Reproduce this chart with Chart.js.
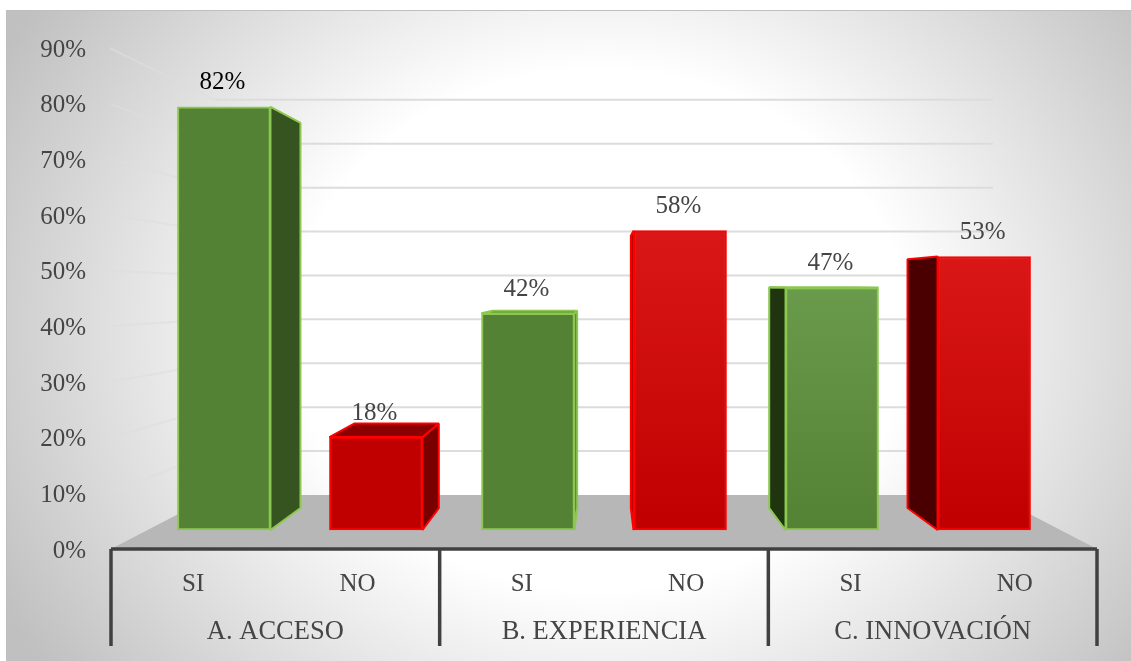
<!DOCTYPE html>
<html>
<head>
<meta charset="utf-8">
<title>Acceso, experiencia e innovación</title>
<script src="https://cdn.jsdelivr.net/npm/chart.js@4/dist/chart.umd.min.js"></script>
<style>
  html, body { margin: 0; padding: 0; background: #fff; }
  canvas { display: block; }
</style>
</head>
<body>
<canvas id="chart" width="1131" height="661"></canvas>
<script>
const groupLabels = ["A. ACCESO", "B. EXPERIENCIA", "C. INNOVACIÓN"];
const answerLabels = ["SI", "NO", "SI", "NO", "SI", "NO"];
const percentValues = [82, 18, 42, 58, 47, 53];

const serif = "'Liberation Serif', 'Times New Roman', serif";
const tickColor = "#454545";
const axisColor = "#404040";

// perspective of the fake 3d box
const vanishX = 604;
const vanishY = 286;
const depth = 0.09;

const sideColors = ["#36541f", "#7a0000", "#36541f", "#7a0000", "#20340f", "#4a0000"];
const topColors = ["#36541f", "#8b0000", "#36541f", "#8b0000", "#3c5a22", "#8b0000"];
const edgeColors = ["#8cc850", "#ff0000", "#8cc850", "#ff0000", "#8cc850", "#ff0000"];

function backPoint(x, y) {
  return [x + depth * (vanishX - x), y + depth * (vanishY - y)];
}

function poly(ctx, points, fill, stroke) {
  ctx.beginPath();
  points.forEach((p, i) => (i ? ctx.lineTo(p[0], p[1]) : ctx.moveTo(p[0], p[1])));
  ctx.closePath();
  ctx.fillStyle = fill;
  ctx.fill();
  if (stroke) {
    ctx.lineWidth = 2;
    ctx.lineJoin = "bevel";
    ctx.strokeStyle = stroke;
    ctx.stroke();
  }
}

function frontFill(ctx) {
  const i = ctx.dataIndex;
  if (i < 3) return i % 2 ? "#c00000" : "#548235";
  const scale = ctx.chart.scales.yBars;
  const g = ctx.chart.ctx.createLinearGradient(0, scale.getPixelForValue(percentValues[i]), 0, scale.getPixelForValue(0));
  if (i % 2) {
    g.addColorStop(0, "#d91717");
    g.addColorStop(1, "#c00000");
  } else {
    g.addColorStop(0, "#6a9a4c");
    g.addColorStop(1, "#548235");
  }
  return g;
}

const scenePlugin = {
  id: "scene",
  beforeDraw(chart) {
    const ctx = chart.ctx;
    ctx.save();
    ctx.beginPath();
    ctx.rect(6, 10, 1125, 651);
    ctx.clip();
    ctx.translate(600, 330);
    ctx.scale(1, 0.85);
    const g = ctx.createRadialGradient(0, 0, 0, 0, 0, 680);
    g.addColorStop(0, "#ffffff");
    g.addColorStop(0.45, "#ffffff");
    g.addColorStop(1, "#c0c0c0");
    ctx.fillStyle = g;
    ctx.fillRect(-700, -700, 1400, 1400);
    ctx.restore();
    ctx.save();
    ctx.strokeStyle = "#bfbfbf";
    ctx.lineWidth = 1;
    ctx.beginPath();
    ctx.moveTo(6.5, 661);
    ctx.lineTo(6.5, 10.5);
    ctx.lineTo(1131, 10.5);
    ctx.stroke();
    ctx.restore();
  },
  beforeDatasetsDraw(chart) {
    const ctx = chart.ctx;
    const area = chart.chartArea;
    const y = chart.scales.y;
    const yBack = chart.scales.yBack;
    const wallLeft = 215;
    const wallRight = 993;
    const floorY = yBack.getPixelForValue(0);
    ctx.save();
    // walls
    y.ticks.forEach((t) => {
      if (t.value === 0) return;
      const by = yBack.getPixelForValue(t.value);
      ctx.lineWidth = 2;
      ctx.strokeStyle = "rgba(222,222,222,0.6)";
      ctx.beginPath();
      ctx.moveTo(110, y.getPixelForValue(t.value));
      ctx.lineTo(wallLeft, by);
      ctx.stroke();
      ctx.strokeStyle = "#dcdcdc";
      ctx.beginPath();
      ctx.moveTo(wallLeft, by);
      ctx.lineTo(wallRight, by);
      ctx.stroke();
    });
    // floor
    poly(ctx, [[area.left, area.bottom], [area.right, area.bottom], [wallRight, floorY], [wallLeft, floorY]], "#b7b7b7");
    // side and top faces of the boxes, the front comes from the bar itself
    chart.getDatasetMeta(0).data.forEach((bar, i) => {
      const left = bar.x - bar.width / 2;
      const right = bar.x + bar.width / 2;
      const sx = left > vanishX ? left : right;
      const bt = backPoint(sx, bar.y);
      const bb = backPoint(sx, bar.base);
      poly(ctx, [[sx, bar.y], bt, bb, [sx, bar.base]], sideColors[i], edgeColors[i]);
      if (bar.y > vanishY) {
        poly(ctx, [[left, bar.y], backPoint(left, bar.y), backPoint(right, bar.y), [right, bar.y]], topColors[i], edgeColors[i]);
      }
    });
    ctx.restore();
  },
  afterDraw(chart) {
    const ctx = chart.ctx;
    const area = chart.chartArea;
    const group = chart.scales.xGroup;
    ctx.save();
    ctx.strokeStyle = axisColor;
    ctx.lineWidth = 3.5;
    ctx.beginPath();
    ctx.moveTo(area.left, area.bottom);
    ctx.lineTo(area.right, area.bottom);
    ctx.stroke();
    for (let i = 0; i <= groupLabels.length; i++) {
      const x = group.left + (i * group.width) / groupLabels.length;
      ctx.beginPath();
      ctx.moveTo(x, area.bottom);
      ctx.lineTo(x, 646);
      ctx.stroke();
    }
    // value labels over the boxes
    ctx.font = "25px " + serif;
    ctx.textAlign = "center";
    ctx.textBaseline = "middle";
    chart.getDatasetMeta(0).data.forEach((bar, i) => {
      ctx.fillStyle = i === 0 ? "#000000" : tickColor;
      ctx.fillText(percentValues[i] + "%", bar.x - 1.5, bar.y - 24);
    });
    ctx.restore();
  },
};

new Chart(document.getElementById("chart"), {
  type: "bar",
  plugins: [scenePlugin],
  data: {
    datasets: [
      {
        label: "Porcentaje",
        xAxisID: "xBars",
        yAxisID: "yBars",
        data: percentValues.map((v, i) => ({ x: i, y: v })),
        backgroundColor: frontFill,
        borderColor: edgeColors,
        borderWidth: 2,
        borderSkipped: false,
        barThickness: 93,
      },
    ],
  },
  options: {
    responsive: false,
    animation: false,
    layout: { padding: { top: 48, right: 34, left: 0, bottom: 0 } },
    plugins: { legend: { display: false }, tooltip: { enabled: false } },
    scales: {
      y: {
        type: "linear",
        position: "left",
        min: 0,
        max: 90,
        border: { display: false },
        grid: { display: false, drawTicks: false },
        afterFit(scale) {
          scale.width = 111;
        },
        ticks: {
          stepSize: 10,
          padding: 25,
          labelOffset: 2,
          color: tickColor,
          font: { family: serif, size: 25 },
          callback: (v) => v + "%",
        },
      },
      // front faces of the boxes and the back wall sit on their own depth
      yBars: { type: "linear", display: false, min: -3.68, max: 93.4 },
      yBack: { type: "linear", display: false, min: -12.3, max: 101.8 },
      xBars: {
        type: "linear",
        display: false,
        offset: false,
        min: -0.743,
        max: 5.743,
        grid: { display: false },
      },
      x: {
        type: "category",
        position: "bottom",
        weight: 1,
        labels: answerLabels,
        offset: true,
        border: { display: false },
        grid: { display: false, drawTicks: false },
        afterFit(scale) {
          scale.height = 57;
        },
        ticks: {
          padding: 20,
          maxRotation: 0,
          autoSkip: false,
          color: tickColor,
          font: { family: serif, size: 25 },
        },
      },
      xGroup: {
        type: "category",
        position: "bottom",
        weight: 2,
        labels: groupLabels,
        offset: true,
        border: { display: false },
        grid: { display: false, drawTicks: false },
        afterFit(scale) {
          scale.height = 55;
        },
        ticks: {
          padding: 10,
          maxRotation: 0,
          autoSkip: false,
          color: tickColor,
          font: { family: serif, size: 26.5 },
        },
      },
    },
  },
});
</script>
</body>
</html>
